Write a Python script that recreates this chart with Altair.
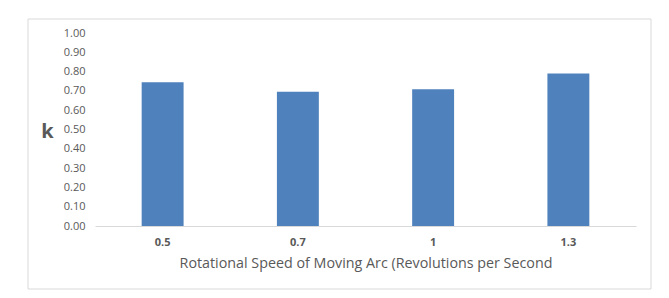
import altair as alt
import pandas as pd

categories = ["0.5", "0.7", "1", "1.3"]
values = [0.745, 0.695, 0.708, 0.79]

df = pd.DataFrame({"speed": categories, "k": values})

FONT = "Open Sans"
GRAY = "#595959"

frame = alt.Chart(pd.DataFrame({"a": [0]})).mark_rect(
    fill=None, stroke="#d9d9d9", strokeWidth=1
).encode(
    x=alt.value(-67), x2=alt.value(556), y=alt.value(-14), y2=alt.value(256)
)

bars = alt.Chart(df).mark_bar(color="#4F81BD").encode(
    x=alt.X(
        "speed:N",
        sort=categories,
        scale=alt.Scale(paddingInner=0.69, paddingOuter=0.345),
        axis=alt.Axis(
            title="Rotational Speed of Moving Arc (Revolutions per Second",
            labelAngle=0,
            labelFont=FONT,
            labelFontSize=11,
            labelFontWeight="bold",
            labelColor=GRAY,
            labelPadding=10,
            ticks=False,
            domainColor="#d9d9d9",
            domainWidth=1,
            titleFont=FONT,
            titleFontSize=14.3,
            titleFontWeight="normal",
            titleColor=GRAY,
            titlePadding=9,
        ),
    ),
    y=alt.Y(
        "k:Q",
        scale=alt.Scale(domain=[0, 1], nice=False),
        axis=alt.Axis(
            title="k",
            values=[i / 10 for i in range(11)],
            format=".2f",
            grid=False,
            domain=False,
            ticks=False,
            labelFont=FONT,
            labelFontSize=11,
            labelColor=GRAY,
            labelPadding=10,
            titleFont=FONT,
            titleFontSize=20,
            titleFontWeight="bold",
            titleColor=GRAY,
            titleAngle=0,
            titleAlign="center",
            titleBaseline="middle",
            titleX=-48,
            titleY=98,
        ),
    ),
)

chart = alt.layer(frame, bars).properties(
    width=541,
    height=193,
    background="white",
    autosize=alt.AutoSizeParams(type="none"),
    padding={"left": 87, "top": 25, "right": 25, "bottom": 64},
).configure_view(stroke=None)

chart.save("out.html", embed_options={"renderer": "svg", "actions": False})
